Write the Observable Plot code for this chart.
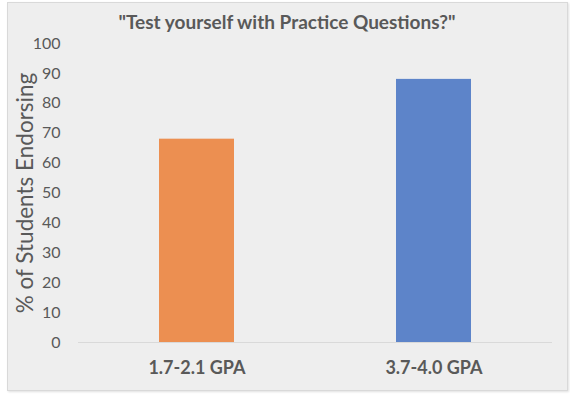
<!DOCTYPE html>
<html>
<head>
<meta charset="utf-8">
<script src="https://cdn.jsdelivr.net/npm/d3@7"></script>
<script src="https://cdn.jsdelivr.net/npm/@observablehq/plot@0.6"></script>
<style>
  html, body { margin: 0; padding: 0; background: #ffffff; }
  #wrap { position: relative; width: 570px; height: 397px; overflow: hidden; font-family: Lato, "Open Sans", sans-serif; }
  #panel { position: absolute; left: 7px; top: 2px; width: 559px; height: 387px; background: #eeeeee; border: 1px solid #d9d9d9; box-shadow: 1px 1px 2px rgba(0,0,0,0.12); }
  #title { position: absolute; left: 0; top: 10px; width: 574px; text-align: center; font-weight: bold; font-size: 19px; color: #595959; }
  #chart { position: absolute; left: 0; top: 0; }
</style>
</head>
<body>
<div id="wrap">
  <div id="panel"></div>
  <div id="title">"Test yourself with Practice Questions?"</div>
  <div id="chart"></div>
</div>
<script>
const categories = ["1.7-2.1 GPA", "3.7-4.0 GPA"];
const values = [68, 88];
const colors = ["#ec8f51", "#5d84c9"];
const yTicks = [0, 10, 20, 30, 40, 50, 60, 70, 80, 90, 100];
const yLabel = "% of Students Endorsing";

const data = categories.map((c, i) => ({category: c, value: values[i], color: colors[i]}));

const chart = Plot.plot({
  width: 570,
  height: 397,
  marginLeft: 78,
  marginRight: 18,
  marginTop: 43,
  marginBottom: 55,
  style: {background: "transparent", fontFamily: "Lato, 'Open Sans', sans-serif", color: "#595959"},
  x: {domain: categories, paddingInner: 0.684, paddingOuter: 0.342},
  y: {domain: [0, 100]},
  marks: [
    Plot.barY(data, {x: "category", y: "value", fill: "color"}),
    Plot.ruleY([0], {stroke: "#d9d9d9", strokeWidth: 1}),
    Plot.axisY({ticks: yTicks, tickSize: 0, tickPadding: 18, fontSize: 16, fill: "#595959",
      label: yLabel, labelAnchor: "center", labelArrow: "none", labelOffset: 61}),
    Plot.axisX({tickSize: 0, tickPadding: 19, fontSize: 18, fontWeight: "bold", fill: "#595959", label: null})
  ]
});
chart.querySelectorAll("g[aria-label='y-axis label'] text").forEach(t => { t.setAttribute("font-size", 22.5); });
document.getElementById("chart").appendChild(chart);
</script>
</body>
</html>
